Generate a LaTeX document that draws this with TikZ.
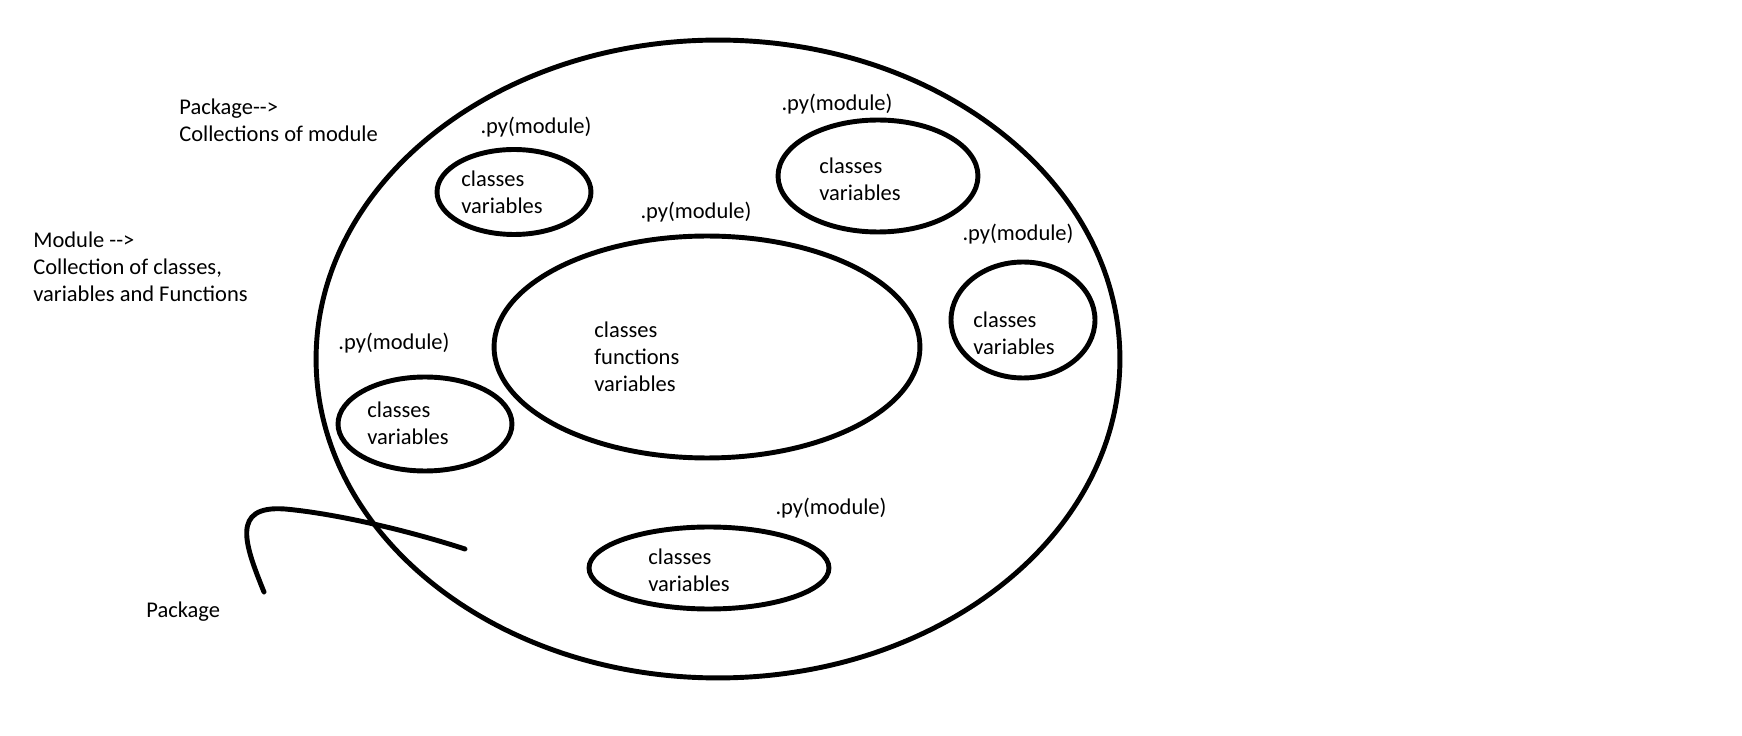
\documentclass[tikz,border=0pt]{standalone}
\usepackage{fontspec}
\setmainfont{Carlito}
\usepackage{tikz}
\usetikzlibrary{shapes.geometric}

\begin{document}
\begin{tikzpicture}[x=0.02cm, y=-0.02cm,
    every node/.style = {font=\fontsize{12.8pt}{15.4pt}\selectfont},
    mod/.style = {draw, ellipse, line width=2.8pt, inner sep=0pt},
    txt/.style = {align=left, anchor=west, inner sep=0pt},
    lbl/.style = {inner sep=0pt}]
            \useasboundingbox (0,0) rectangle (1742,736);

            \node[mod, minimum width=16.08cm, minimum height=12.76cm] (pkg) at (718,359) {};

            \node[mod, minimum width=3.08cm, minimum height=1.7cm] (modA) at (514,192) {};
            \node[lbl] (pyA) at (536,127) {.py(module)};
            \node[txt] (inA) at (461,192) {classes\\variables};

            \node[mod, minimum width=4cm, minimum height=2.24cm] (modB) at (878,176) {};
            \node[lbl] (pyB) at (837,104) {.py(module)};
            \node[txt] (inB) at (819,179) {classes\\variables};

            \node[mod, minimum width=8.52cm, minimum height=4.44cm] (modC) at (707,347) {};
            \node[lbl] (pyC) at (696,212) {.py(module)};
            \node[txt] (inC) at (594,357) {classes\\functions\\variables};

            \node[mod, minimum width=2.88cm, minimum height=2.32cm] (modD) at (1023,320) {};
            \node[lbl] (pyD) at (1018,234) {.py(module)};
            \node[txt] (inD) at (973,333) {classes\\variables};

            \node[mod, minimum width=3.48cm, minimum height=1.88cm] (modE) at (425,424) {};
            \node[lbl] (pyE) at (394,343) {.py(module)};
            \node[txt] (inE) at (367,423) {classes\\variables};

            \node[mod, minimum width=4.8cm, minimum height=1.64cm] (modF) at (709,568) {};
            \node[lbl] (pyF) at (831,508) {.py(module)};
            \node[txt] (inF) at (648,570) {classes\\variables};

            \node[txt] (pkgnote) at (179,120) {Package-{}->\\Collections of module};
            \node[txt] (modnote) at (33,267) {Module -{}->\\Collection of classes,\\variables and Functions};
            \node[txt] (pkgname) at (146,612) {Package};

            \coordinate (hookstart) at (264,592);
            \coordinate (hookend) at (465,549);
            \draw[line width=2.8pt, line cap=round] (hookstart) .. controls (245,545) and (230,505) .. (285,509) .. controls (330,513) and (400,528) .. (hookend);
        \end{tikzpicture}
\end{document}
